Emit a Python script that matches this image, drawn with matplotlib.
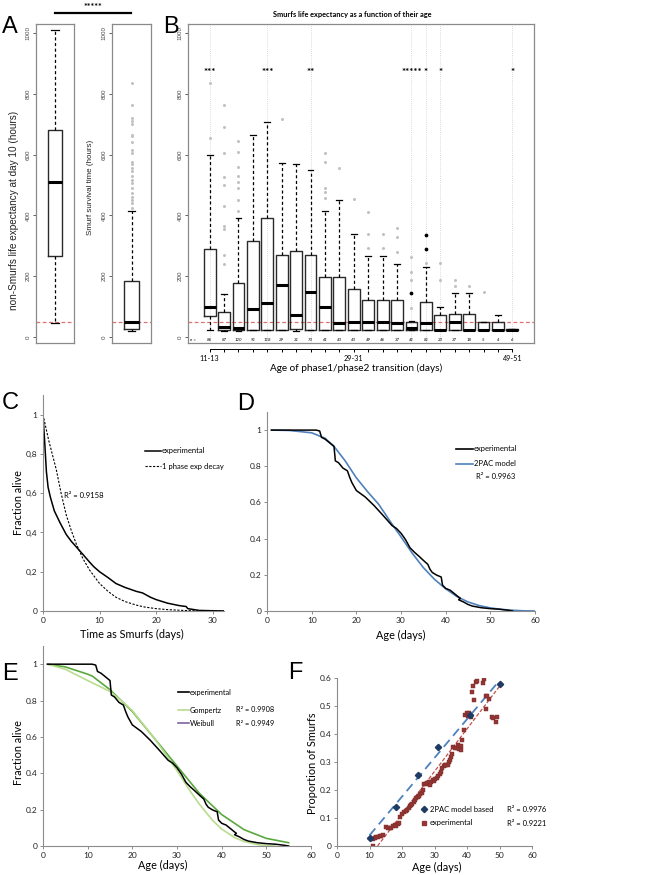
import numpy as np
import matplotlib.pyplot as plt
from matplotlib.lines import Line2D

plt.rcParams['font.family'] = ['Lato', 'DejaVu Sans']

W, H = 660, 875

###########################
# data
###########################
# A : boxes as (whisker low, q1, median, q3, whisker high), hours
nonsmurf_box = [45, 265, 510, 680, 1010]
smurf_box = [20, 26, 48, 185, 415]
smurf_fliers = [425, 440, 450, 460, 475, 490, 505, 515, 530, 545, 555, 570, 575,
                605, 615, 640, 660, 665, 700, 710, 720, 765, 835]
threshold_h = 48

# B : one box per age class of the phase1/phase2 transition
b_n = [86, 87, 120, 91, 118, 29, 31, 70, 61, 43, 43, 49, 46, 37, 41, 81, 23, 37, 18, 5, 4, 6]
b_lo = [22, 20, 20, 24, 24, 24, 21, 24, 24, 24, 24, 24, 24, 24, 22, 24, 22, 24, 22, 22, 22, 22]
b_q1 = [69, 24, 22, 24, 24, 24, 26, 24, 24, 24, 24, 24, 24, 24, 22, 24, 22, 24, 22, 22, 22, 22]
b_med = [100, 33, 28, 91, 113, 170, 71, 148, 98, 47, 50, 50, 50, 47, 28, 47, 24, 49, 24, 24, 24, 23]
b_q3 = [289, 83, 178, 317, 392, 269, 283, 269, 197, 197, 158, 122, 122, 122, 48, 114, 72, 75, 75, 49, 49, 25]
b_hi = [600, 141, 391, 664, 706, 574, 570, 550, 414, 450, 338, 267, 267, 241, 53, 231, 98, 146, 146, 49, 72, 25]
b_fliers = [[655, 835], [240, 270, 355, 365, 430, 500, 525, 605, 690, 765],
            [415, 450, 490, 510, 530, 560, 610, 645], [], [], [716], [], [],
            [458, 478, 490, 577, 607], [557], [455], [292, 338, 412], [292, 338],
            [280, 330, 360], [95, 188, 214, 263], [243], [187, 243], [168, 187],
            [168], [148], [], []]
b_dark_pos = [15, 16, 16]
b_dark_val = [145, 289, 336]
b_stars = {1: '***', 5: '***', 8: '**', 15: '*****', 16: '*', 17: '*', 22: '*'}
b_ticklabels = {1: '11-13', 11: '29-31', 22: '49-51'}

# C : survival after the Smurf transition
c_t = [0, 0.3, 0.6, 0.9, 1.3, 2.0, 3.0, 4.1, 5.0, 5.9, 7.0, 8.2, 9.0, 10.0, 11.5, 12.9,
       14.5, 16.5, 17.6, 19.0, 20.0, 22.0, 24.0, 24.7, 25.3, 25.6, 26.5, 27.6, 29.0, 30.5, 32.0]
c_exp = [1.0, 0.86, 0.71, 0.63, 0.58, 0.51, 0.45, 0.39, 0.355, 0.326, 0.29, 0.25, 0.225, 0.2,
         0.17, 0.14, 0.12, 0.1, 0.092, 0.07, 0.058, 0.04, 0.028, 0.025, 0.023, 0.012, 0.008,
         0.003, 0.002, 0.001, 0.0]
c_fit_t = [0, 1, 2.35, 3.2, 4.1, 5.0, 5.9, 7.0, 8.2, 10.0, 11.5, 12.9, 14.5, 16.5, 18.0, 20.0,
           22.0, 24.7, 27.0, 30.0, 32.0]
c_fit = [1.0, 0.87, 0.72, 0.6, 0.49, 0.41, 0.34, 0.27, 0.21, 0.14, 0.1, 0.07, 0.048, 0.03,
         0.02, 0.012, 0.007, 0.003, 0.001, 0.0, 0.0]

# D/E : survival of the whole population
age = [1, 11, 11.8, 12.2, 13, 14, 15, 15.3, 16, 17, 18, 18.5, 19, 20, 21, 22, 23, 24, 25, 26,
       27, 28, 29, 30, 31, 32, 33, 34, 35, 36, 36.5, 37, 38, 39, 39.3, 40, 41, 42, 43, 43.3,
       42.9, 44, 45, 46, 48, 50, 52, 54, 55]
alive = [1.0, 1.0, 0.995, 0.96, 0.95, 0.93, 0.91, 0.83, 0.82, 0.79, 0.775, 0.74, 0.71, 0.666,
         0.648, 0.63, 0.606, 0.582, 0.555, 0.528, 0.5, 0.472, 0.456, 0.43, 0.395, 0.35, 0.325,
         0.303, 0.28, 0.258, 0.23, 0.213, 0.198, 0.188, 0.143, 0.125, 0.115, 0.095, 0.075,
         0.07, 0.062, 0.05, 0.036, 0.027, 0.018, 0.013, 0.01, 0.004, 0.0]
model_age = [1, 5, 10, 13, 15, 17.5, 20, 22.5, 25, 26.5, 28, 30, 32.5, 35, 37.5, 40, 42.5, 45,
             47.5, 50, 52.5, 55, 57.5, 60]
model_2pac = [1.0, 0.998, 0.985, 0.955, 0.91, 0.83, 0.736, 0.66, 0.59, 0.535, 0.48, 0.41, 0.32,
              0.24, 0.175, 0.123, 0.08, 0.05, 0.03, 0.017, 0.009, 0.004, 0.001, 0.0]
gomp_age = [1, 5, 10, 15, 18, 20, 25, 30, 33, 35, 38, 40, 43, 45, 48, 50, 52]
gompertz = [1.0, 0.972, 0.91, 0.85, 0.79, 0.745, 0.59, 0.415, 0.3, 0.23, 0.14, 0.093, 0.045,
            0.025, 0.008, 0.002, 0.0]
weib_age = [1, 5, 10, 11, 15, 17.5, 20, 25, 28, 30, 35, 40, 45, 50, 55]
weibull = [1.0, 0.985, 0.945, 0.935, 0.86, 0.8, 0.74, 0.59, 0.5, 0.44, 0.29, 0.173, 0.09,
           0.042, 0.018]

# F : proportion of Smurfs with age
f_model_x = [10, 18, 25, 31, 40.8, 50.3]
f_model_y = [0.028, 0.138, 0.254, 0.354, 0.468, 0.578]
f_exp_x = [11.0, 11.2, 11.6, 12.1, 12.6, 13.1, 13.6, 14.2, 15.1, 15.6, 16.2, 16.7, 17.2, 17.7,
           18.2, 18.7, 19.1, 19.4, 20.0, 20.6, 21.1, 21.5, 22.0, 22.4, 22.8, 23.2, 23.6, 24.0,
           24.4, 24.8, 25.2, 25.6, 26.0, 26.4, 26.9, 27.3, 27.8, 28.2, 28.6, 29.0, 29.4, 29.8,
           30.3, 30.8, 31.2, 31.6, 32.0, 32.4, 32.8, 33.2, 33.6, 34.0, 34.4, 34.8, 35.2, 35.5,
           35.8, 36.3, 36.8, 37.2, 37.6, 38.0, 38.2, 38.5, 39.0, 39.5, 39.9, 40.3, 40.7, 41.1,
           41.4, 41.8, 42.3, 42.7, 43.2, 44.9, 45.3, 45.7, 45.9, 46.3, 46.9, 47.6, 48.1, 48.8,
           49.2]
f_exp_y = [0.0, 0.024, 0.027, 0.032, 0.033, 0.035, 0.037, 0.039, 0.068, 0.066, 0.063, 0.066,
           0.072, 0.075, 0.072, 0.08, 0.083, 0.104, 0.116, 0.12, 0.126, 0.13, 0.134, 0.142,
           0.146, 0.15, 0.158, 0.165, 0.172, 0.176, 0.178, 0.184, 0.19, 0.2, 0.222, 0.22, 0.226,
           0.228, 0.218, 0.228, 0.236, 0.232, 0.238, 0.242, 0.25, 0.258, 0.264, 0.28, 0.284,
           0.29, 0.288, 0.29, 0.3, 0.306, 0.318, 0.328, 0.352, 0.35, 0.35, 0.362, 0.348, 0.344,
           0.356, 0.38, 0.414, 0.468, 0.474, 0.464, 0.476, 0.46, 0.55, 0.57, 0.522, 0.586,
           0.588, 0.582, 0.598, 0.49, 0.534, 0.536, 0.526, 0.46, 0.458, 0.442, 0.46]

###########################
# helpers
###########################
fig = plt.figure(figsize=(6.6, 8.75), dpi=100)


def px_axes(x0, y0, x1, y1):
    return fig.add_axes([x0 / W, 1 - y1 / H, (x1 - x0) / W, (y1 - y0) / H])


def ftext(x, y, s, **kw):
    return fig.text(x / W, 1 - y / H, s, **kw)


def fline(x0, x1, y, **kw):
    fig.add_artist(Line2D([x0 / W, x1 / W], [1 - y / H, 1 - y / H], **kw))


def fmark(x, y, **kw):
    fig.add_artist(Line2D([x / W], [1 - y / H], ls='none', **kw))


def stats(lo, q1, med, q3, hi, fliers=()):
    return dict(whislo=lo, q1=q1, med=med, q3=q3, whishi=hi, fliers=list(fliers))


BOXKW = dict(boxprops=dict(color='#2a2a2a', lw=1.0),
             whiskerprops=dict(color='black', lw=0.9, ls=(0, (2.5, 2))),
             capprops=dict(color='black', lw=0.9),
             medianprops=dict(color='black', lw=2.2, solid_capstyle='butt'),
             flierprops=dict(marker='o', ms=1.2, mfc='#c2c2c2', mec='#c2c2c2'))


def r_frame(ax):
    for s in ax.spines.values():
        s.set_color('#8a8a8a')
        s.set_linewidth(0.9)
    ax.set_ylim(-20, 1030)
    ax.set_yticks([0, 200, 400, 600, 800, 1000])
    ax.set_yticklabels(['0', '200', '400', '600', '800', '1000'], rotation=90, va='center',
                       family='Liberation Sans')
    ax.tick_params(axis='y', length=2.5, width=0.6, labelsize=4.5, pad=1.5,
                   colors='#444444')
    ax.set_xticks([])
    ax.axhline(threshold_h, color='#e07070', lw=0.9, ls=(0, (3, 2)), zorder=0)


def excel_axes(ax):
    for s in ['top', 'right']:
        ax.spines[s].set_visible(False)
    for s in ['left', 'bottom']:
        ax.spines[s].set_color('#8c8c8c')
        ax.spines[s].set_linewidth(0.8)
    ax.tick_params(length=2.5, width=0.7, color='#8c8c8c', labelsize=6, pad=1.5,
                   labelcolor='#222222')


###########################
# A
###########################
axA1 = px_axes(36, 24, 74, 343)
axA1.bxp([stats(*nonsmurf_box)], positions=[1], widths=0.38, capwidths=0.19, **BOXKW)
axA1.set_xlim(0.5, 1.5)
r_frame(axA1)

axA2 = px_axes(112, 24, 151, 343)
axA2.bxp([stats(*smurf_box, smurf_fliers)], positions=[1], widths=0.36, capwidths=0.18,
         **BOXKW)
axA2.set_xlim(0.5, 1.5)
r_frame(axA2)

ftext(14, 210, 'non-Smurfs life expectancy at day 10 (hours)', rotation=90,
      ha='center', va='center', fontsize=7.2, family='Liberation Sans', color='#222222')
ftext(90, 187, 'Smurf survival time (hours)', rotation=90, ha='center', va='center',
      fontsize=5.8, family='Liberation Sans', color='#222222')
fline(55, 131, 13, color='black', lw=1.6)
ftext(93, 10, '*****', ha='center', va='baseline', fontsize=6.5, fontweight='bold')

###########################
# B
###########################
axB = px_axes(188, 24, 534, 343)
b_pos = list(range(1, len(b_n) + 1))
b_stats = [stats(b_lo[i], b_q1[i], b_med[i], b_q3[i], b_hi[i], b_fliers[i])
           for i in range(len(b_n))]
for p in b_stars:
    axB.axvline(p, color='#cfcfcf', lw=0.6, ls=(0, (1, 1.5)), zorder=0)
axB.bxp(b_stats, positions=b_pos, widths=0.82, capwidths=0.41, **BOXKW)
axB.plot(b_dark_pos, b_dark_val, 'o', ms=1.7, color='black')
axB.set_xlim(-0.5, 23.5)
r_frame(axB)
for p, s in b_stars.items():
    axB.text(p, 870, s, ha='center', va='center', fontsize=7, fontweight='bold')
axB.text(-0.15, -10, 'n =', ha='center', va='center', fontsize=3.2, style='italic')
for p, n in zip(b_pos, b_n):
    axB.text(p, -10, str(n), ha='center', va='center', fontsize=3.2, style='italic')

sec = axB.secondary_xaxis(-0.019)
sec.set_xticks(b_pos)
sec.set_xticklabels([b_ticklabels.get(p, '') for p in b_pos])
sec.spines['bottom'].set_bounds(1, len(b_n))
sec.spines['bottom'].set_linewidth(0.7)
sec.tick_params(length=2.5, width=0.7, labelsize=5.2, pad=1.5)

ftext(352, 15, 'Smurfs life expectancy as a function of their age', ha='center',
      va='center', fontsize=5.3, fontweight='bold')
ftext(356, 368, 'Age of phase1/phase2 transition (days)', ha='center', va='center',
      fontsize=7.2)

###########################
# C
###########################
axC = px_axes(43, 395, 224, 611)
axC.plot(c_t, c_exp, color='black', lw=1.1)
axC.plot(c_fit_t, c_fit, color='black', lw=0.8, ls=(0, (2, 1.4)))
axC.set_xlim(0, 32)
axC.set_ylim(0, 1.1)
axC.set_xticks([0, 10, 20, 30])
axC.set_yticks([0, 0.2, 0.4, 0.6, 0.8, 1.0])
axC.set_yticklabels(['0', '0,2', '0,4', '0,6', '0,8', '1'])
excel_axes(axC)
fline(145, 161, 451, color='black', lw=1.1)
ftext(162, 451, 'experimental', va='center', fontsize=5.5)
fline(145, 161, 466, color='black', lw=0.8, ls=(0, (2, 1.4)))
ftext(162, 466, '1 phase exp decay', va='center', fontsize=5.5)
ftext(64, 495, 'R² = 0.9158', va='center', fontsize=5.5)
ftext(19, 503, 'Fraction alive', rotation=90, ha='center', va='center', fontsize=7.8)
ftext(132, 634, 'Time as Smurfs (days)', ha='center', va='center', fontsize=7.8)

###########################
# D
###########################
axD = px_axes(267, 412, 535, 611)
axD.plot(model_age, model_2pac, color='#4f81bd', lw=1.2)
axD.plot(age, alive, color='black', lw=1.1)
axD.set_xlim(0, 60)
axD.set_ylim(0, 1.1)
axD.set_xticks(range(0, 61, 10))
axD.set_yticks([0, 0.2, 0.4, 0.6, 0.8, 1.0])
axD.set_yticklabels(['0', '0.2', '0.4', '0.6', '0.8', '1'])
excel_axes(axD)
fline(456, 473, 449, color='black', lw=1.2)
ftext(474, 449, 'experimental', va='center', fontsize=5.5)
fline(456, 473, 464, color='#4f81bd', lw=1.2)
ftext(474, 464, '2PAC model', va='center', fontsize=5.5)
ftext(476, 476, 'R² = 0.9963', va='center', fontsize=5.5)
ftext(401, 635, 'Age (days)', ha='center', va='center', fontsize=7.8)

###########################
# E
###########################
axE = px_axes(43, 646, 311, 846)
axE.plot(weib_age, weibull, color='#5aa83e', lw=1.2)
axE.plot(gomp_age, gompertz, color='#b9dc8f', lw=1.2)
axE.plot(age, alive, color='black', lw=1.1)
axE.set_xlim(0, 60)
axE.set_ylim(0, 1.1)
axE.set_xticks(range(0, 61, 10))
axE.set_yticks([0, 0.2, 0.4, 0.6, 0.8, 1.0])
axE.set_yticklabels(['0', '0.2', '0.4', '0.6', '0.8', '1'])
excel_axes(axE)
fline(178, 189, 692, color='black', lw=1.2)
ftext(190, 692, 'experimental', va='center', fontsize=5.3)
fline(178, 189, 710, color='#b9dc8f', lw=1.2)
ftext(190, 710, 'Gompertz', va='center', fontsize=5.3)
ftext(236, 710, 'R² = 0.9908', va='center', fontsize=5.3)
fline(178, 189, 723, color='#8064a2', lw=1.2)
ftext(190, 723, 'Weibull', va='center', fontsize=5.3)
ftext(236, 723, 'R² = 0.9949', va='center', fontsize=5.3)
ftext(18, 753, 'Fraction alive', rotation=90, ha='center', va='center', fontsize=7.8)
ftext(163, 865, 'Age (days)', ha='center', va='center', fontsize=7.8)

###########################
# F
###########################
axF = px_axes(337, 678, 532, 846)
bfit = np.polyfit(f_model_x, f_model_y, 1)
bx = np.array([min(f_model_x), 50])
axF.plot(bx, np.polyval(bfit, bx), color='#4f81bd', lw=1.3, ls=(0, (5, 3)))
rfit = np.polyfit(f_exp_x, f_exp_y, 1)
rx = np.array([-rfit[1] / rfit[0], 50])
axF.plot(rx, np.polyval(rfit, rx), color='#c0504d', lw=0.9, ls=(0, (3, 1.5)))
axF.plot(f_exp_x, f_exp_y, 's', ms=2.2, color='#943634', mec='#7a2a28', mew=0.3)
axF.plot(f_model_x, f_model_y, 'D', ms=3.2, color='#1f3b64')
axF.set_xlim(0, 60)
axF.set_ylim(0, 0.6)
axF.set_xticks(range(0, 61, 10))
axF.set_yticks([0, 0.1, 0.2, 0.3, 0.4, 0.5, 0.6])
axF.set_yticklabels(['0', '0.1', '0.2', '0.3', '0.4', '0.5', '0.6'])
excel_axes(axF)
fmark(424, 809, marker='D', ms=3.2, color='#1f3b64')
ftext(430, 809, '2PAC model based', va='center', fontsize=5.5)
ftext(507, 809, 'R² = 0.9976', va='center', fontsize=5.5)
fmark(424, 823, marker='s', ms=2.2, color='#943634')
ftext(430, 823, 'experimental', va='center', fontsize=5.5)
ftext(507, 823, 'R² = 0.9221', va='center', fontsize=5.5)
ftext(312, 763, 'Proportion of Smurfs', rotation=90, ha='center', va='center', fontsize=7.8)
ftext(437, 867, 'Age (days)', ha='center', va='center', fontsize=7.8)

###########################
# panel letters
###########################
for letter, x, y in [('A', 2, 33), ('B', 163, 33), ('C', 2, 409), ('D', 237, 410),
                     ('E', 2, 680), ('F', 288, 679)]:
    ftext(x, y, letter, fontsize=17, family='Liberation Sans', va='baseline')

fig.savefig('out.png', dpi=100)
